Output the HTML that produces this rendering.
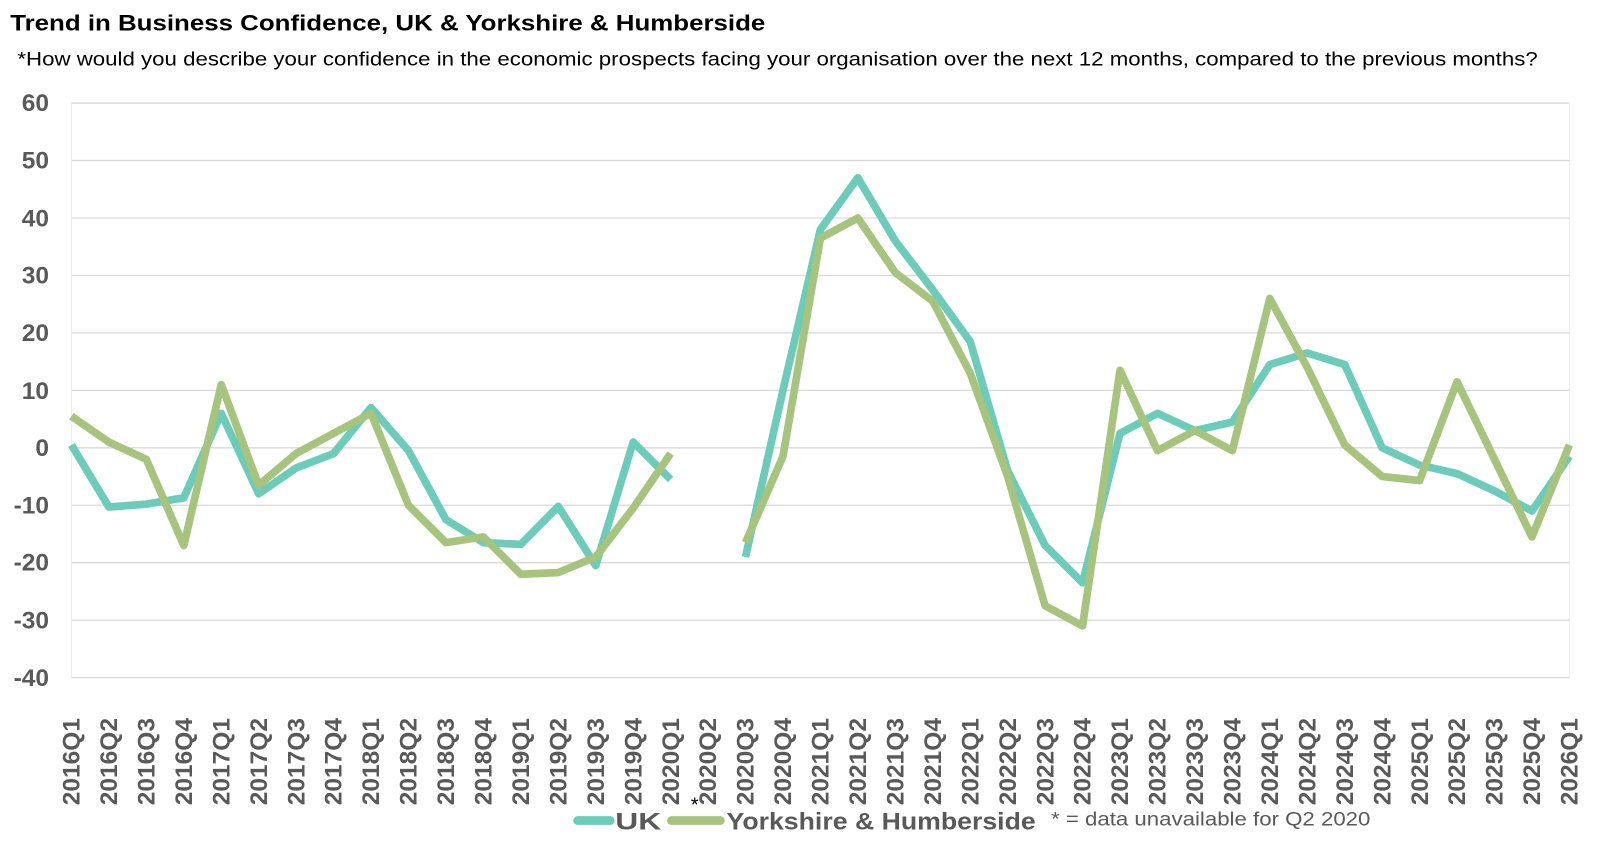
<!DOCTYPE html>
<html><head><meta charset="utf-8"><style>
html,body{margin:0;padding:0;background:#fff;overflow:hidden;}
svg{display:block;}
.t{font-family:"Liberation Sans",sans-serif;}
.ax{font-family:"Liberation Sans",sans-serif;font-weight:bold;font-size:24px;fill:#595959;}
</style></head><body>
<svg width="1600" height="845" viewBox="0 0 1568 828" preserveAspectRatio="none" xmlns="http://www.w3.org/2000/svg">
<text class="t" x="10" y="30" font-size="22" font-weight="bold" fill="#000" textLength="740" lengthAdjust="spacingAndGlyphs">Trend in Business Confidence, UK &amp; Yorkshire &amp; Humberside</text>
<text class="t" x="17" y="64" font-size="19" fill="#000" textLength="1490" lengthAdjust="spacingAndGlyphs">*How would you describe your confidence in the economic prospects facing your organisation over the next 12 months, compared to the previous months?</text>
<g stroke="#d9d9d9" stroke-width="1.3">
<line x1="70" x2="1538" y1="101" y2="101"/><line x1="70" x2="1538" y1="157.3" y2="157.3"/>
<line x1="70" x2="1538" y1="213.6" y2="213.6"/><line x1="70" x2="1538" y1="269.9" y2="269.9"/>
<line x1="70" x2="1538" y1="326.2" y2="326.2"/><line x1="70" x2="1538" y1="382.5" y2="382.5"/>
<line x1="70" x2="1538" y1="438.8" y2="438.8"/><line x1="70" x2="1538" y1="495.1" y2="495.1"/>
<line x1="70" x2="1538" y1="551.4" y2="551.4"/><line x1="70" x2="1538" y1="607.7" y2="607.7"/>
<line x1="70" x2="1538" y1="664" y2="664"/>
</g>
<line x1="70" x2="70" y1="101" y2="664" stroke="#ececec" stroke-width="1"/>
<line x1="1538" x2="1538" y1="101" y2="664" stroke="#ececec" stroke-width="1"/>
<g class="ax" text-anchor="end">
<text x="48" y="109">60</text><text x="48" y="165">50</text>
<text x="48" y="222">40</text><text x="48" y="278">30</text>
<text x="48" y="334">20</text><text x="48" y="391">10</text>
<text x="48" y="447">0</text><text x="48" y="503">-10</text>
<text x="48" y="559">-20</text><text x="48" y="616">-30</text>
<text x="48" y="672">-40</text>
</g>
<g class="ax">
<text transform="translate(78,789) rotate(-90)">2016Q1</text>
<text transform="translate(114.7,789) rotate(-90)">2016Q2</text>
<text transform="translate(151.4,789) rotate(-90)">2016Q3</text>
<text transform="translate(188.1,789) rotate(-90)">2016Q4</text>
<text transform="translate(224.8,789) rotate(-90)">2017Q1</text>
<text transform="translate(261.5,789) rotate(-90)">2017Q2</text>
<text transform="translate(298.2,789) rotate(-90)">2017Q3</text>
<text transform="translate(334.9,789) rotate(-90)">2017Q4</text>
<text transform="translate(371.6,789) rotate(-90)">2018Q1</text>
<text transform="translate(408.3,789) rotate(-90)">2018Q2</text>
<text transform="translate(445,789) rotate(-90)">2018Q3</text>
<text transform="translate(481.7,789) rotate(-90)">2018Q4</text>
<text transform="translate(518.4,789) rotate(-90)">2019Q1</text>
<text transform="translate(555.1,789) rotate(-90)">2019Q2</text>
<text transform="translate(591.8,789) rotate(-90)">2019Q3</text>
<text transform="translate(628.5,789) rotate(-90)">2019Q4</text>
<text transform="translate(665.2,789) rotate(-90)">2020Q1</text>
<text transform="translate(701.9,789) rotate(-90)">2020Q2</text>
<text transform="translate(738.6,789) rotate(-90)">2020Q3</text>
<text transform="translate(775.3,789) rotate(-90)">2020Q4</text>
<text transform="translate(812,789) rotate(-90)">2021Q1</text>
<text transform="translate(848.7,789) rotate(-90)">2021Q2</text>
<text transform="translate(885.4,789) rotate(-90)">2021Q3</text>
<text transform="translate(922.1,789) rotate(-90)">2021Q4</text>
<text transform="translate(958.8,789) rotate(-90)">2022Q1</text>
<text transform="translate(995.5,789) rotate(-90)">2022Q2</text>
<text transform="translate(1032.2,789) rotate(-90)">2022Q3</text>
<text transform="translate(1068.9,789) rotate(-90)">2022Q4</text>
<text transform="translate(1105.6,789) rotate(-90)">2023Q1</text>
<text transform="translate(1142.3,789) rotate(-90)">2023Q2</text>
<text transform="translate(1179,789) rotate(-90)">2023Q3</text>
<text transform="translate(1215.7,789) rotate(-90)">2023Q4</text>
<text transform="translate(1252.4,789) rotate(-90)">2024Q1</text>
<text transform="translate(1289.1,789) rotate(-90)">2024Q2</text>
<text transform="translate(1325.8,789) rotate(-90)">2024Q3</text>
<text transform="translate(1362.5,789) rotate(-90)">2024Q4</text>
<text transform="translate(1399.2,789) rotate(-90)">2025Q1</text>
<text transform="translate(1435.9,789) rotate(-90)">2025Q2</text>
<text transform="translate(1472.6,789) rotate(-90)">2025Q3</text>
<text transform="translate(1509.3,789) rotate(-90)">2025Q4</text>
<text transform="translate(1546,789) rotate(-90)">2026Q1</text>
</g>
<g id="series" fill="none" stroke-width="7.5" stroke-linejoin="round" stroke-linecap="butt"></g>
<text class="t" x="677" y="795" font-size="20" fill="#000">*</text>
<line x1="566" x2="598" y1="804" y2="804" stroke="#6ccbb9" stroke-width="8.5" stroke-linecap="round"/>
<text class="t" x="603" y="813" font-size="24" font-weight="bold" fill="#595959" textLength="45" lengthAdjust="spacingAndGlyphs">UK</text>
<line x1="658" x2="706" y1="804" y2="804" stroke="#a6c47e" stroke-width="8.5" stroke-linecap="round"/>
<text class="t" x="712" y="813" font-size="24" font-weight="bold" fill="#595959" textLength="303" lengthAdjust="spacingAndGlyphs">Yorkshire &amp; Humberside</text>
<text class="t" x="1030" y="809" font-size="19" fill="#595959" textLength="313" lengthAdjust="spacingAndGlyphs">* = data unavailable for Q2 2020</text>
</svg>
<script>
var uk=[0.5,-10.3,-9.8,-8.7,6,-8,-3.5,-1,7,-0.5,-12.5,-16.5,-16.8,-10.2,-20.5,1,-5.5,null,-19,10,38,47,36,27.5,18.5,-4,-17,-23.5,2.5,6,3,4.5,14.5,16.5,14.5,0,-3,-4.5,-7.5,-11,-1.5];
var yh=[5.5,1,-2,-17,11,-6.5,-1,2.5,6,-10,-16.5,-15.5,-22,-21.7,-19,-10.5,-1,null,-16.5,-1.5,36.5,40,30.5,25.5,13,-5,-27.5,-31,13.5,-0.5,3,-0.5,26,14,0.5,-5,-5.7,11.5,-2,-15.5,0.5];
var g=document.getElementById('series');
function draw(d,c){var segs=[[]];d.forEach(function(v,i){if(v===null){segs.push([]);return;}segs[segs.length-1].push((70+36.7*i).toFixed(1)+','+(438.8-5.63*v).toFixed(1));});
segs.forEach(function(s){if(s.length<2)return;var p=document.createElementNS('http://www.w3.org/2000/svg','polyline');p.setAttribute('points',s.join(' '));p.setAttribute('stroke',c);g.appendChild(p);});}
draw(uk,'#6ccbb9');draw(yh,'#a6c47e');
</script>
</body></html>
